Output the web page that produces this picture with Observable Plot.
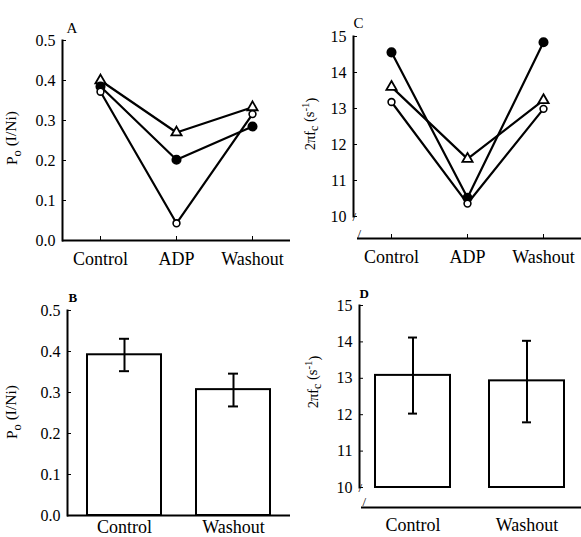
<!DOCTYPE html>
<html><head><meta charset="utf-8">
<script src="https://cdn.jsdelivr.net/npm/d3@7"></script>
<script src="https://cdn.jsdelivr.net/npm/@observablehq/plot@0.6"></script>
<style>
body{margin:0;background:#fff;}
#fig{position:relative;width:581px;height:537px;background:#fff;overflow:hidden;}
.panel{position:absolute;}
#fig svg, #fig svg text{font-family:"Liberation Serif", serif !important;}
</style></head><body><div id="fig"></div>
<script>
// ---------- data ----------
const conditions = ["Control", "ADP", "Washout"];
const seriesNames = ["triangle", "filled", "open"];
// Panel A: open probability Po (I/Ni)
const poTriangle = [0.400, 0.270, 0.333];
const poFilled   = [0.385, 0.202, 0.285];
const poOpen     = [0.372, 0.043, 0.316];
// Panel C: 2πfc (s^-1)
const fcTriangle = [13.60, 11.60, 13.23];
const fcFilled   = [14.56, 10.52, 14.84];
const fcOpen     = [13.18, 10.36, 12.99];
// Panels B and D: mean ± error
const barConditions = ["Control", "Washout"];
const poMean = [0.392, 0.307];
const poLow  = [0.352, 0.266];
const poHigh = [0.431, 0.346];
const fcMean = [13.08, 12.93];
const fcLow  = [12.03, 11.79];
const fcHigh = [14.12, 14.03];
// tick labels
const poTicks = [0, 0.1, 0.2, 0.3, 0.4, 0.5];
const fcTicks = [10, 11, 12, 13, 14, 15];
const fcAxisFloor = 9.39; // where the broken x-axis sits below the y-axis break

// ---------- helpers ----------
const FONT = "Liberation Serif";
function tidy(arrs) {
  const rows = [];
  seriesNames.forEach((s, i) => arrs[i].forEach((v, j) => rows.push({s, cond: conditions[j], v})));
  return rows;
}
function bars(means, lows, highs) {
  return barConditions.map((c, i) => ({cond: c, mean: means[i], lo: lows[i], hi: highs[i]}));
}
const rowsA = tidy([poTriangle, poFilled, poOpen]);
const rowsC = tidy([fcTriangle, fcFilled, fcOpen]);
const barsB = bars(poMean, poLow, poHigh);
const barsD = bars(fcMean, fcLow, fcHigh);

const baseStyle = "font-family: 'Liberation Serif', serif; font-size: 16px; color: black; background: white; overflow: visible;";

function pointMarks(rows) {
  return [
    Plot.line(rows, {x: "cond", y: "v", z: "s", stroke: "black", strokeWidth: 2.2}),
    Plot.dot(rows.filter(d => d.s === "triangle"), {x: "cond", y: "v", symbol: "triangle", r: 3.8, fill: "white", stroke: "black", strokeWidth: 1.8}),
    Plot.dot(rows.filter(d => d.s === "filled"), {x: "cond", y: "v", r: 4.3, fill: "black", stroke: "black"}),
    Plot.dot(rows.filter(d => d.s === "open"), {x: "cond", y: "v", r: 3.4, fill: "white", stroke: "black", strokeWidth: 1.6})
  ];
}

function finish(svg) {
  d3.select(svg).attr("font-family", FONT).selectAll("text").attr("font-family", FONT);
}

function addYLabel(svg, x, y, parts, size) {
  const t = d3.select(svg).append("text")
    .attr("transform", `translate(${x},${y}) rotate(-90)`)
    .attr("text-anchor", "middle")
    .attr("font-family", FONT)
    .attr("font-size", size)
    .attr("fill", "black");
  parts.forEach(([str, kind]) => {
    const ts = t.append("tspan").text(str);
    if (kind === "sub") ts.attr("dy", "0.3em").attr("font-size", size * 0.8);
    if (kind === "sup") ts.attr("dy", "-0.45em").attr("font-size", size * 0.75);
    if (kind === "back") ts.attr("dy", "-0.3em");
    if (kind === "backsup") ts.attr("dy", "0.45em");
  });
}

function place(el, left, top) {
  finish(el);
  el.classList.add("panel");
  el.style.left = left + "px";
  el.style.top = top + "px";
  document.getElementById("fig").appendChild(el);
}

// ---------- Panel A ----------
const plotA = Plot.plot({
  width: 290, height: 270, marginLeft: 62, marginRight: 0, marginTop: 40, marginBottom: 30,
  style: baseStyle,
  x: {type: "point", domain: conditions, padding: 0.5},
  y: {domain: [0, 0.5]},
  marks: [
    Plot.frame({anchor: "left", strokeWidth: 2}),
    Plot.ruleY([0], {strokeWidth: 2}),
    Plot.axisY({ticks: poTicks, tickFormat: d3.format(".1f"), tickSize: -4, tickPadding: 11, label: null, fontSize: 16}),
    Plot.axisX({tickSize: -4, tickPadding: 16, label: null, fontSize: 18}),
    ...pointMarks(rowsA),
    Plot.text(["A"], {text: d => d, frameAnchor: "top-left", dx: 4, dy: -18, fontSize: 15, textAnchor: "start"})
  ]
});
addYLabel(plotA, 17, 138, [["P", null], ["o", "sub"], [" (I/Ni)", "back"]], 15.5);
place(plotA, 0, 0);

// ---------- Panel C ----------
const plotC = Plot.plot({
  width: 291, height: 270, marginLeft: 63, marginRight: 0, marginTop: 36, marginBottom: 54,
  style: baseStyle,
  x: {type: "point", domain: conditions, padding: 0.5},
  y: {domain: [10, 15]},
  marks: [
    Plot.frame({anchor: "left", strokeWidth: 2}),
    Plot.ruleY([fcAxisFloor], {strokeWidth: 2, insetLeft: 4}),
    Plot.axisY({ticks: fcTicks, tickFormat: d3.format("d"), tickSize: -4, tickPadding: 11, label: null, fontSize: 16}),
    Plot.axisX({tickSize: -4, tickPadding: 16, dy: 22, label: null, fontSize: 18}),
    Plot.text(["/"], {text: d => d, frameAnchor: "bottom-left", dx: -1, dy: 4, fontSize: 13}),
    Plot.text(["/"], {text: d => d, frameAnchor: "bottom-left", dx: 4, dy: 21, fontSize: 13}),
    ...pointMarks(rowsC),
    Plot.text(["C"], {text: d => d, frameAnchor: "top-left", dx: 0, dy: -19, fontSize: 15, textAnchor: "start"})
  ]
});
addYLabel(plotC, 25, 124, [["2πf", null], ["c", "sub"], [" (s", "back"], ["-1", "sup"], [")", "backsup"]], 14.5);
place(plotC, 290, 0);

// ---------- Panel B ----------
const plotB = Plot.plot({
  width: 290, height: 267, marginLeft: 67, marginRight: 0, marginTop: 40, marginBottom: 22,
  style: baseStyle,
  x: {type: "band", domain: barConditions, paddingInner: 0.32, paddingOuter: 0.18},
  y: {domain: [0, 0.5]},
  marks: [
    Plot.barY(barsB, {x: "cond", y: "mean", fill: "white", stroke: "black", strokeWidth: 2}),
    Plot.frame({anchor: "left", strokeWidth: 2}),
    Plot.ruleY([0], {strokeWidth: 2}),
    Plot.axisY({ticks: poTicks, tickFormat: d3.format(".1f"), tickSize: -4, tickPadding: 11, label: null, fontSize: 16}),
    Plot.axisX({tickSize: 0, tickPadding: 5, label: null, fontSize: 18}),
    Plot.ruleX(barsB, {x: "cond", y1: "lo", y2: "hi", strokeWidth: 2}),
    Plot.tickY(barsB, {x: "cond", y: "lo", strokeWidth: 2, insetLeft: 32, insetRight: 32}),
    Plot.tickY(barsB, {x: "cond", y: "hi", strokeWidth: 2, insetLeft: 32, insetRight: 32}),
    Plot.text(["B"], {text: d => d, frameAnchor: "top-left", dx: 1, dy: -18, fontSize: 13, fontWeight: "bold", textAnchor: "start"})
  ]
});
addYLabel(plotB, 17, 142, [["P", null], ["o", "sub"], [" (I/Ni)", "back"]], 15.5);
place(plotB, 0, 270);

// ---------- Panel D ----------
const plotD = Plot.plot({
  width: 291, height: 267, marginLeft: 69, marginRight: 0, marginTop: 35, marginBottom: 50,
  style: baseStyle,
  x: {type: "band", domain: barConditions, paddingInner: 0.34, paddingOuter: 0.14},
  y: {domain: [10, 15]},
  marks: [
    Plot.barY(barsD, {x: "cond", y1: 10, y2: "mean", fill: "white", stroke: "black", strokeWidth: 2}),
    Plot.frame({anchor: "left", strokeWidth: 2}),
    Plot.ruleY([fcAxisFloor + 0.06], {strokeWidth: 2, insetLeft: 2}),
    Plot.axisY({ticks: fcTicks, tickFormat: d3.format("d"), tickSize: -4, tickPadding: 11, label: null, fontSize: 16}),
    Plot.axisX({tickSize: 0, tickPadding: 31, label: null, fontSize: 18}),
    Plot.text(["/"], {text: d => d, frameAnchor: "bottom-left", dx: -1, dy: 4, fontSize: 13}),
    Plot.text(["/"], {text: d => d, frameAnchor: "bottom-left", dx: 3, dy: 18, fontSize: 13}),
    Plot.ruleX(barsD, {x: "cond", y1: "lo", y2: "hi", strokeWidth: 2}),
    Plot.tickY(barsD, {x: "cond", y: "lo", strokeWidth: 2, insetLeft: 33, insetRight: 33}),
    Plot.tickY(barsD, {x: "cond", y: "hi", strokeWidth: 2, insetLeft: 33, insetRight: 33}),
    Plot.text(["D"], {text: d => d, frameAnchor: "top-left", dx: 0, dy: -17, fontSize: 13, fontWeight: "bold", textAnchor: "start"})
  ]
});
addYLabel(plotD, 28, 112, [["2πf", null], ["c", "sub"], [" (s", "back"], ["-1", "sup"], [")", "backsup"]], 14.5);
place(plotD, 290, 270);
</script></body></html>
